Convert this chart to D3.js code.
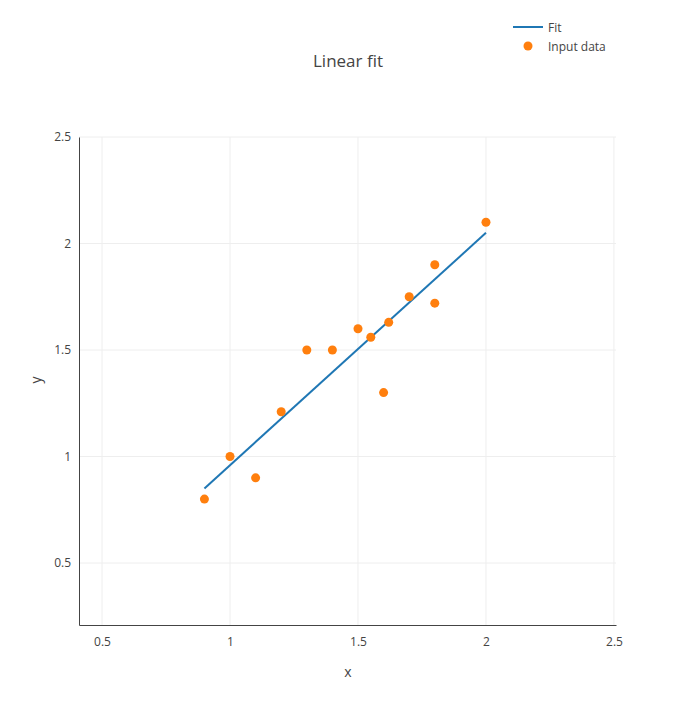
<!DOCTYPE html>
<html><head><meta charset="utf-8">
<script src="https://cdn.jsdelivr.net/npm/d3@7"></script>
<style>body{margin:0;background:#fff}text{font-family:"Open Sans",sans-serif}</style>
</head><body><svg id="chart"></svg>
<script>
const dataX = [0.9, 1.0, 1.1, 1.2, 1.3, 1.4, 1.5, 1.55, 1.6, 1.62, 1.7, 1.8, 1.8, 2.0];
const dataY = [0.8, 1.0, 0.9, 1.21, 1.5, 1.5, 1.6, 1.56, 1.3, 1.63, 1.75, 1.9, 1.72, 2.1];
const fitX = [0.9, 2.0];
const fitY = [0.85, 2.05];
const ticks = [0.5, 1, 1.5, 2, 2.5];

const width = 696, height = 705;
const svg = d3.select('#chart').attr('width', width).attr('height', height);

const x = d3.scaleLinear().domain([0.41, 2.508]).range([79, 616]);
const y = d3.scaleLinear().domain([0.209, 2.5]).range([625, 137]);

// grid
svg.append('g').selectAll('line').data(ticks).join('line')
  .attr('x1', d => x(d)).attr('x2', d => x(d)).attr('y1', 137).attr('y2', 625)
  .attr('stroke', '#eee');
svg.append('g').selectAll('line').data(ticks).join('line')
  .attr('y1', d => y(d)).attr('y2', d => y(d)).attr('x1', 79).attr('x2', 616)
  .attr('stroke', '#eee');

const xAxis = svg.append('g').attr('transform', 'translate(0,625)')
  .call(d3.axisBottom(x).tickValues(ticks).tickSize(0).tickPadding(12).tickFormat(d3.format('')));
const yAxis = svg.append('g').attr('transform', 'translate(79,0)')
  .call(d3.axisLeft(y).tickValues(ticks).tickSize(0).tickPadding(8).tickFormat(d3.format('')));
[xAxis, yAxis].forEach(a => {
  a.select('.domain').attr('stroke', '#444');
  a.selectAll('text').attr('font-size', 12).attr('fill', '#444').attr('font-family', '"Open Sans",sans-serif');
});

svg.append('path')
  .datum(fitX.map((d, i) => [d, fitY[i]]))
  .attr('d', d3.line().x(d => x(d[0])).y(d => y(d[1])))
  .attr('fill', 'none').attr('stroke', '#1f77b4').attr('stroke-width', 2);

svg.append('g').selectAll('circle').data(dataX).join('circle')
  .attr('cx', d => x(d)).attr('cy', (d, i) => y(dataY[i])).attr('r', 4.5)
  .attr('fill', '#ff7f0e');

svg.append('text').attr('x', 348).attr('y', 67).attr('text-anchor', 'middle')
  .attr('font-size', 17).attr('fill', '#444').text('Linear fit');
svg.append('text').attr('x', 348).attr('y', 677).attr('text-anchor', 'middle')
  .attr('font-size', 14).attr('fill', '#444').text('x');
svg.append('text').attr('transform', 'translate(41,380) rotate(-90)').attr('text-anchor', 'middle')
  .attr('font-size', 14).attr('fill', '#444').text('y');

// legend
const lg = svg.append('g').attr('transform', 'translate(513,27)');
lg.append('line').attr('x1', 0).attr('x2', 30).attr('stroke', '#1f77b4').attr('stroke-width', 2);
lg.append('text').attr('x', 35).attr('y', 5).attr('font-size', 12).attr('fill', '#444').text('Fit');
lg.append('circle').attr('cx', 15).attr('cy', 19).attr('r', 4.5).attr('fill', '#ff7f0e');
lg.append('text').attr('x', 35).attr('y', 24).attr('font-size', 12).attr('fill', '#444').text('Input data');
</script></body></html>
